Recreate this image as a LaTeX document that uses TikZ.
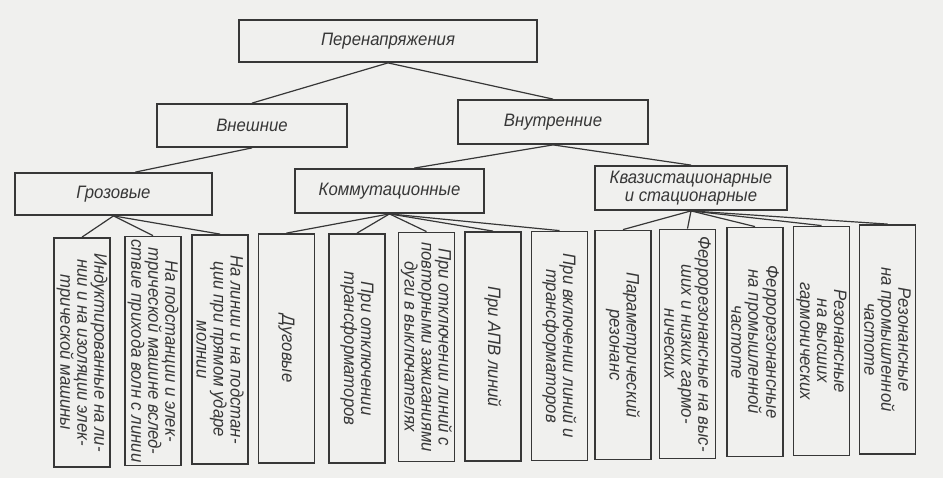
\documentclass[tikz,border=0pt]{standalone}
\usepackage{fontspec}
\setmainfont{Liberation Sans}[FakeStretch=0.93]
\usepackage{tikz}
\usetikzlibrary{calc}
\definecolor{paper}{RGB}{240,240,238}
\definecolor{ink}{RGB}{55,55,55}
\tikzset{
  head/.style={rectangle, draw=ink, line width=1.8pt, inner sep=0pt,
    align=center, font=\fontsize{18}{18}\selectfont\itshape, text=ink},
  leaf/.style={rectangle, draw=ink, line width=1.8pt, inner sep=0pt,
    rotate=-90, minimum width=229pt, minimum height=56pt,
    align=center, font=\fontsize{18}{17}\selectfont\itshape, text=ink},
  link/.style={line width=1.2pt, color=ink}
}

\begin{document}
\begin{tikzpicture}[x=1pt, y=-1pt]
  \fill[paper] (0,0) rectangle (943,478);
  \useasboundingbox (0,0) rectangle (943,478);

  % Upper levels
  \node[head, minimum width=298pt, minimum height=42pt] (top) at (388,41) {Перенапряжения};
  \node[head, minimum width=190pt, minimum height=43pt] (ext) at (252,125.5) {Внешние};
  \node[head, minimum width=190pt, minimum height=44pt] (int) at (553,122) {Внутренние};
  \node[head, minimum width=197pt, minimum height=42pt] (groz) at (113.5,194) {Грозовые};
  \node[head, minimum width=189pt, minimum height=44pt] (komm) at (389.5,191) {Коммутационные};
  \node[head, minimum width=192pt, minimum height=44pt] (kvazi) at (691,188)
    {Квазистационарные\\и стационарные};

  % Lightning group
  \node[leaf] (b1) at (82,352.5) {Индуктированные на ли-\\нии и на изоляции элек-\\трической машины};
  \node[leaf] (b2) at (153,351) {На подстанции и элек-\\трической машине вслед-\\ствие прихода волн с линии};
  \node[leaf] (b3) at (220,349.5) {На линии и на подстан-\\ции при прямом ударе\\молнии};

  % Switching group
  \node[leaf] (b4) at (286.5,348.5) {Дуговые};
  \node[leaf] (b5) at (357,348.5) {При отключении\\трансформаторов};
  \node[leaf] (b6) at (426.5,347) {При отключении линий с\\повторными зажиганиями\\дуги в выключателях};
  \node[leaf] (b7) at (493,346.5) {При АПВ линий};
  \node[leaf] (b8) at (559.5,346) {При включении линий и\\трансформаторов};

  % Quasi-stationary group
  \node[leaf] (b9) at (623,345) {Параметрический\\резонанс};
  \node[leaf] (b10) at (687.5,344) {Феррорезонансные на выс-\\ших и низких гармо-\\нических};
  \node[leaf] (b11) at (755,342) {Феррорезонансные\\на промышленной\\частоте};
  \node[leaf] (b12) at (821.5,341) {Резонансные\\на высших\\гармонических};
  \node[leaf] (b13) at (887.5,339.5) {Резонансные\\на промышленной\\частоте};

  % Connectors
  \draw[link] (top.south) -- (ext.north);
  \draw[link] (top.south) -- (int.north);
  \draw[link] (ext.south) -- ($(groz.north west)!0.61!(groz.north east)$);
  \draw[link] (int.south) -- ($(komm.north west)!0.63!(komm.north east)$);
  \draw[link] (int.south) -- (kvazi.north);
  \draw[link] (groz.south) -- (b1.west);
  \draw[link] (groz.south) -- (b2.west);
  \draw[link] (groz.south) -- (b3.west);
  \draw[link] (komm.south) -- (b4.west);
  \draw[link] (komm.south) -- (b5.west);
  \draw[link] (komm.south) -- (b6.west);
  \draw[link] (komm.south) -- (b7.west);
  \draw[link] (komm.south) -- (b8.west);
  \draw[link] (kvazi.south) -- (b9.west);
  \draw[link] (kvazi.south) -- (b10.west);
  \draw[link] (kvazi.south) -- (b11.west);
  \draw[link] (kvazi.south) -- (b12.west);
  \draw[link] (kvazi.south) -- (b13.west);
\end{tikzpicture}
\end{document}
